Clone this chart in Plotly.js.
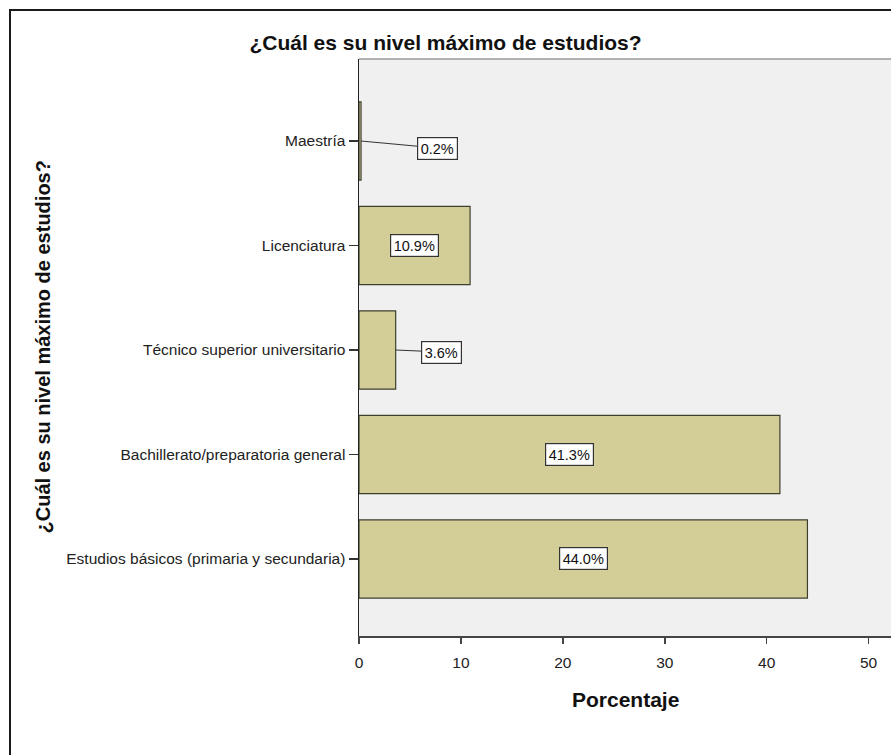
<!DOCTYPE html>
<html>
<head>
<meta charset="utf-8">
<script src="https://cdn.plot.ly/plotly-3.0.1.min.js"></script>
<style>
  html, body { margin: 0; padding: 0; background: #fff; overflow: hidden; }
  #chart { width: 891px; height: 755px; }
  #frame { position: absolute; left: 9px; top: 9px; width: 2000px; height: 2000px;
           border-left: 2px solid #1a1a1a; border-top: 2px solid #1a1a1a; pointer-events: none; }
</style>
</head>
<body>
<div id="chart"></div>
<div id="frame"></div>
<script>
const categories = [
  "Estudios básicos (primaria y secundaria)",
  "Bachillerato/preparatoria general",
  "Técnico superior universitario",
  "Licenciatura",
  "Maestría"
];
const percentages = [44.0, 41.3, 3.6, 10.9, 0.2];
const valueLabels = ["44.0%", "41.3%", "3.6%", "10.9%", "0.2%"];
const chartTitle = "¿Cuál es su nivel máximo de estudios?";
const xTitle = "Porcentaje";
const xTicks = [0, 10, 20, 30, 40, 50];

const fontFamily = "Liberation Sans, Arial, sans-serif";

const trace = {
  type: "bar",
  orientation: "h",
  y: categories,
  x: percentages,
  width: 0.75,
  marker: { color: "#d3ce98", line: { color: "#3f3f30", width: 1.2 } },
  hoverinfo: "skip"
};

const annotations = [];
percentages.forEach((v, i) => {
  const inside = v > 8;
  const label = {
    x: inside ? v / 2 : v,
    y: categories[i],
    xref: "x", yref: "y",
    text: valueLabels[i],
    font: { family: fontFamily, size: 14.5, color: "#111" },
    bgcolor: "#ffffff",
    bordercolor: "#333333",
    borderwidth: 1.2,
    borderpad: 2.5,
    showarrow: !inside
  };
  if (!inside) {
    label.arrowhead = 0;
    label.arrowwidth = 1;
    label.arrowcolor = "#333";
    label.ax = v < 1 ? 76 : 46;
    label.ay = v < 1 ? 7 : 2;
  }
  annotations.push(label);
});

annotations.push({
  xref: "paper", yref: "paper",
  x: (42 - 359) / 532, y: 0.5,
  text: "<b>" + chartTitle + "</b>",
  textangle: -90, showarrow: false,
  xanchor: "center", yanchor: "middle",
  font: { family: fontFamily, size: 20, color: "#111" }
});
annotations.push({
  xref: "paper", yref: "paper",
  x: 0.5, y: -(699 - 636) / 577,
  text: "<b>" + xTitle + "</b>",
  showarrow: false, xanchor: "center", yanchor: "middle",
  font: { family: fontFamily, size: 21, color: "#111" }
});

const layout = {
  width: 891, height: 755,
  margin: { l: 359, r: 0, t: 59, b: 119, pad: 0 },
  paper_bgcolor: "#ffffff",
  plot_bgcolor: "#f0f0f0",
  showlegend: false,
  title: {
    text: "<b>" + chartTitle + "</b>",
    x: 0.5, xref: "container", xanchor: "center",
    y: 1 - 43 / 755, yref: "container", yanchor: "middle",
    font: { family: fontFamily, size: 21, color: "#111" }
  },
  xaxis: {
    range: [0, 52.2],
    tickvals: xTicks,
    ticktext: xTicks.map(String),
    showgrid: false, zeroline: false,
    showline: true, linecolor: "#444", linewidth: 1.5,
    ticks: "outside", ticklen: 6, tickwidth: 1.5, tickcolor: "#444",
    ticklabelstandoff: 6,
    tickfont: { family: fontFamily, size: 15.5, color: "#222" }
  },
  yaxis: {
    type: "category",
    categoryorder: "array", categoryarray: categories,
    range: [-0.737, 4.785],
    showgrid: false, zeroline: false,
    showline: true, linecolor: "#222", linewidth: 1.5,
    ticks: "outside", ticklen: 9, tickwidth: 1.5, tickcolor: "#333",
    tickfont: { family: fontFamily, size: 15.5, color: "#222" }
  },
  shapes: [{
    type: "line", xref: "paper", yref: "paper",
    x0: 0, x1: 1, y0: 1, y1: 1,
    line: { color: "#9a9a9a", width: 1.5 }
  }],
  annotations: annotations
};

Plotly.newPlot("chart", [trace], layout, { staticPlot: true, displayModeBar: false });
</script>
</body>
</html>
